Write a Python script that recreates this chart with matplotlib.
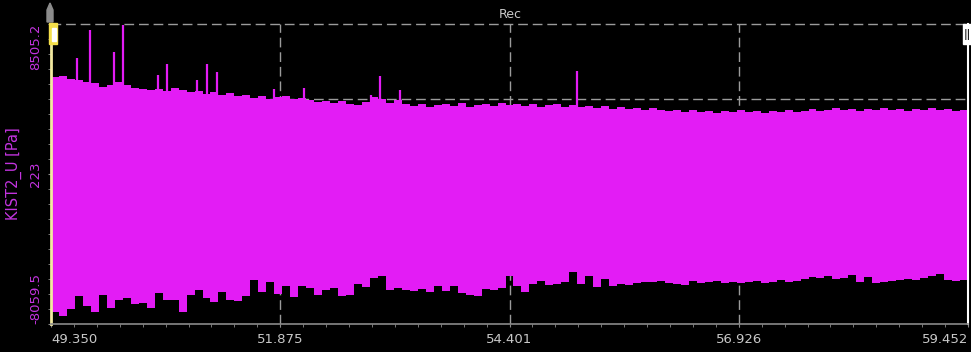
import numpy as np
import matplotlib.pyplot as plt
from matplotlib.patches import Rectangle, Polygon
from matplotlib.ticker import FixedLocator

# recording window (s) and display range (Pa)
t_start, t_end = 49.350, 59.452
y_min, y_max = -8059.5, 8505.2

# max / min of KIST2_U per display block (Pa)
env_max = [5579, 5634, 5468, 5413, 5303, 5247, 5026, 5137, 5303, 5137,
           4971, 4916, 4861, 4916, 4806, 4971, 4861, 4750, 4806, 4640,
           4750, 4585, 4695, 4530, 4585, 4419, 4530, 4364, 4474, 4530,
           4364, 4419, 4309, 4198, 4254, 4143, 4254, 4088, 4033, 4198,
           4474, 4364, 4143, 4309, 4088, 3978, 4088, 3922, 4033, 4088,
           3978, 4143, 3922, 4033, 4088, 3978, 4143, 4033, 4088, 3978,
           4088, 3922, 4033, 4088, 3922, 4033, 3922, 3978, 3867, 3978,
           3812, 3922, 3812, 3867, 3757, 3867, 3757, 3701, 3757, 3646,
           3757, 3646, 3701, 3591, 3701, 3646, 3757, 3646, 3701, 3591,
           3701, 3646, 3757, 3646, 3701, 3812, 3701, 3757, 3867, 3757,
           3812, 3701, 3812, 3757, 3867, 3757, 3812, 3701, 3812, 3757,
           3867, 3757, 3812, 3701, 3757]
env_min = [-7397, -7618, -7231, -6514, -7066, -7397, -6458, -7176, -6734, -6624,
           -6955, -6900, -7176, -6348, -6734, -6734, -7397, -6458, -6182, -6624,
           -6845, -6293, -6734, -6790, -6514, -5630, -6293, -5740, -6403, -5961,
           -6569, -5961, -6072, -6458, -6182, -6072, -6514, -6458, -5851, -6017,
           -5520, -5409, -6182, -6072, -6182, -6238, -6127, -6293, -5961, -6238,
           -5961, -6348, -6458, -6514, -6127, -6182, -6072, -5409, -5961, -6293,
           -5851, -5685, -5906, -5851, -5740, -5188, -5851, -5409, -6017, -5575,
           -5961, -5851, -5906, -5796, -5740, -5740, -5685, -5796, -5851, -5906,
           -5685, -5796, -5740, -5685, -5796, -5740, -5796, -5740, -5685, -5796,
           -5740, -5630, -5740, -5685, -5575, -5465, -5520, -5409, -5575, -5520,
           -5354, -5740, -5465, -5796, -5740, -5685, -5630, -5575, -5630, -5520,
           -5409, -5299, -5630, -5685, -5630]

# short pressure peaks above the envelope
peak_t = [49.637, 49.780, 50.045, 50.144, 50.530, 50.629, 50.960, 51.070,
          51.181, 51.809, 52.140, 52.879, 52.978, 53.199, 55.140]
peak_v = [6628, 8174, 6959, 8450, 5689, 6297, 5413, 6297,
          5855, 4916, 4971, 4585, 5634, 4861, 5910]

x_ticks = [49.350, 51.875, 54.401, 56.926, 59.452]
y_ticks = [-8059.5, 223, 8505.2]

sig_col = '#e31cf5'
lab_col = '#c434e0'
txt_col = '#c8c8c8'
grid_col = '#9b9b9b'

fig = plt.figure(figsize=(9.71, 3.52), dpi=100, facecolor='black')
ax = fig.add_axes([51/971, 28/352, 917/971, 300/352], facecolor='black')

# grid (quarters of the range) behind the signal
for gy in np.linspace(y_min, y_max, 5)[1:]:
    ax.axhline(gy, color=grid_col, lw=1, ls=(0, (7, 3.5)), zorder=0, clip_on=False)
for gx in x_ticks[1:-1]:
    ax.axvline(gx, color=grid_col, lw=1, ls=(0, (7, 3.5)), zorder=0)

t_edges = np.linspace(t_start, t_end, len(env_max) + 1)
upper = np.append(env_max, env_max[-1])
lower = np.append(env_min, env_min[-1])
ax.fill_between(t_edges, lower, upper, step='post', color=sig_col, lw=0, zorder=2)
ax.vlines(peak_t, 0, peak_v, color=sig_col, lw=1.6, zorder=2)

ax.set_xlim(t_start, t_end)
ax.set_ylim(y_min, y_max)

ax.set_xticks(x_ticks, labels=['%.3f' % v for v in x_ticks])
ax.xaxis.set_minor_locator(FixedLocator(np.linspace(t_start, t_end, 41)))
xl = ax.get_xticklabels()
xl[0].set_horizontalalignment('left')
xl[-1].set_horizontalalignment('right')

ax.set_yticks(y_ticks, labels=['-8059.5', '223', '8505.2'], rotation=90)
ax.yaxis.set_minor_locator(FixedLocator(np.linspace(y_min, y_max, 21)))
yl = ax.get_yticklabels()
yl[0].set_verticalalignment('bottom')
yl[1].set_verticalalignment('center')
yl[2].set_verticalalignment('top')

ax.tick_params(axis='x', which='both', colors='#8a8a8a', labelcolor=txt_col,
               labelsize=9.5, length=2.5, pad=4)
ax.tick_params(axis='y', which='both', colors='#8a8a8a', labelcolor=lab_col,
               labelsize=9.5, length=2.5, pad=4)

ax.set_ylabel('KIST2_U [Pa]', color=lab_col, fontsize=10.5)
ax.yaxis.set_label_coords(-0.032, 0.5)

ax.spines['top'].set_visible(False)
ax.spines['left'].set_color('#f2e9a0')
ax.spines['left'].set_linewidth(2)
ax.spines['bottom'].set_color('#8a8a8a')
ax.spines['bottom'].set_linewidth(1.2)
ax.spines['right'].set_color('white')
ax.spines['right'].set_linewidth(1.5)
for s in ax.spines.values():
    s.set_zorder(3)

# cursor handles and record marker
W, H = 971, 352
def px(x, y):
    return (x / W, 1 - y / H)

fig.patches.append(Polygon([px(47, 22), px(47, 10), px(50, 3), px(53, 10), px(53, 22)],
                           closed=True, transform=fig.transFigure, color='#8c8c8c'))
x0, y0 = px(49, 44)
fig.patches.append(Rectangle((x0, y0), 8 / W, 21 / H, transform=fig.transFigure,
                             color='#f5e04a'))
x0, y0 = px(51.5, 41)
fig.patches.append(Rectangle((x0, y0), 4.5 / W, 13 / H, transform=fig.transFigure,
                             color='white'))
x0, y0 = px(963, 44)
fig.patches.append(Rectangle((x0, y0), 8 / W, 20 / H, transform=fig.transFigure,
                             color='white'))
fig.text(967 / W, 1 - 35 / H, '||', ha='center', va='center', color='#222222',
         fontsize=7, fontweight='bold')
fig.text(510 / W, 1 - 15 / H, 'Rec', ha='center', va='center', color=txt_col, fontsize=9)

fig.savefig('out.png', dpi=100, facecolor='black')
